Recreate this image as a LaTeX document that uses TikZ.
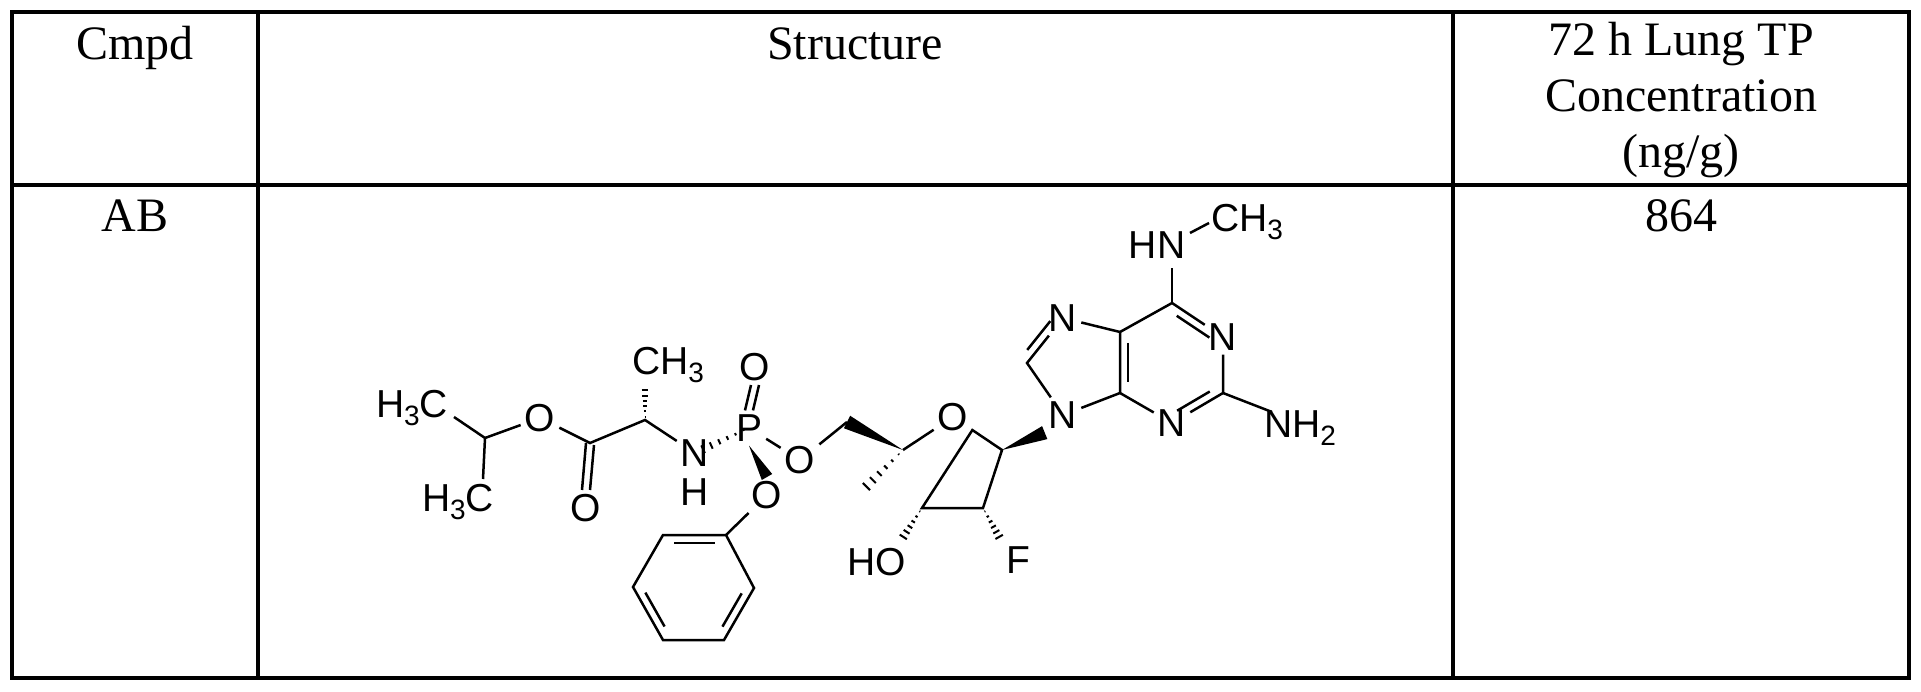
\documentclass[tikz,border=0pt]{standalone}
\usepackage{fontspec}
\setmainfont{Liberation Serif}
\newfontfamily\chemfont{Liberation Sans}
\usetikzlibrary{calc}
\newcommand\sbs[1]{\raisebox{-0.4ex}{\fontsize{28}{28}\selectfont #1}}
\newcommand\hashbond[3]{% from narrow #1 to wide #2, half-width #3
  \foreach \t in {0.1,0.25,0.4,0.55,0.7,0.85,1.0}{
    \pgfmathsetmacro\ww{\t*#3}
    \draw[bond,line width=2pt] ($($(#1)!\t!(#2)$)!\ww pt!90:(#2)$) -- ($($(#1)!\t!(#2)$)!\ww pt!-90:(#2)$);}}
\newcommand\wedgebond[3]{%
  \fill (#1) -- ($(#2)!#3pt!90:(#1)$) -- ($(#2)!#3pt!-90:(#1)$) -- cycle;}
\newcommand\innerbond[3]{%
  \draw[bond] ($($(#1)!0.18!(#2)$)!8pt!#3:(#2)$) -- ($($(#1)!0.82!(#2)$)!8pt!#3:(#2)$);}
\begin{document}
\begin{tikzpicture}[x=1pt,y=-1pt,
  grid/.style={line width=3.5pt},
  bond/.style={line width=2.5pt},
  hd/.style={font=\fontsize{48}{52}\selectfont, anchor=base, inner sep=0pt},
  atom/.style={font=\chemfont\fontsize{39}{39}\selectfont, inner sep=4pt},
  lbl/.style={font=\chemfont\fontsize{39}{39}\selectfont, inner sep=0pt}]
\useasboundingbox (0,0) rectangle (1921,692);
\fill[white] (0,0) rectangle (1921,692);
% table
\draw[grid] (12,12) rectangle (1909,678);
\draw[grid] (12,185) -- (1909,185);
\draw[grid] (258,12) -- (258,678);
\draw[grid] (1453,12) -- (1453,678);
\node[hd] (h1) at (135,60) {Cmpd};
\node[hd] (h2) at (855,60) {Structure};
\node[hd] (h3a) at (1681,56) {72 h Lung TP};
\node[hd] (h3b) at (1681,112) {Concentration};
\node[hd] (h3c) at (1681,168) {(ng/g)};
\node[hd] (r1) at (135,232) {AB};
\node[hd] (r3) at (1681,232) {864};
% ---- molecule ----
\node[lbl] (Me1) at (412,408) {H\sbs{3}C};
\node[lbl] (Me2) at (458,502) {H\sbs{3}C};
\coordinate (iPr) at (485,438);
\coordinate (m1e) at (454,417);
\coordinate (m2e) at (483,479);
\node[atom] (O1) at (540,418) {O};
\coordinate (Cco) at (590,443);
\node[atom] (O2) at (586,508) {O};
\coordinate (Ca) at (645,420);
\node[lbl] (CH3a) at (668,365) {CH\sbs{3}};
\coordinate (cae) at (645,385);
\node[atom] (N) at (695,453) {N};
\node[lbl] (NH) at (695,492) {H};
\node[atom] (P) at (749,428) {P};
\node[atom] (O3) at (755,367) {O};
\node[atom] (O4) at (800,460) {O};
\node[atom] (O5) at (767,495) {O};
\coordinate (ph1) at (726,535);
\coordinate (ph2) at (754,588);
\coordinate (ph3) at (724,640);
\coordinate (ph4) at (663,640);
\coordinate (ph5) at (633,587);
\coordinate (ph6) at (663,535);
\coordinate (CH2) at (847,422);
\coordinate (C4p) at (903,450);
\coordinate (Me4) at (860,493);
\node[atom] (Or) at (953,417) {O};
\coordinate (C1p) at (1002,450);
\coordinate (C2p) at (983,508);
\coordinate (C3p) at (922,508);
\node[lbl] (HO) at (877,562) {HO};
\coordinate (hoe) at (900,542);
\node[lbl] (F) at (1018,560) {F};
\coordinate (fe) at (1002,542);
\node[atom] (N9) at (1063,415) {N};
\coordinate (C8) at (1027,363);
\node[atom] (N7) at (1063,318) {N};
\coordinate (C5) at (1120,332);
\coordinate (C4) at (1120,393);
\coordinate (C6) at (1172,303);
\node[atom] (N1) at (1223,337) {N};
\coordinate (C2) at (1223,393);
\node[atom] (N3) at (1172,423) {N};
\node[lbl] (NH2) at (1300,428) {NH\sbs{2}};
\coordinate (nh2e) at (1272,412);
\node[lbl] (HN) at (1157,245) {HN};
\coordinate (hne) at (1172,268);
\node[lbl] (CH3b) at (1247,222) {CH\sbs{3}};
\coordinate (hn1) at (1190,233);
\coordinate (hn2) at (1209,223);
% bonds
\draw[bond] (m1e) -- (iPr) -- (m2e);
\draw[bond] (iPr) -- (O1) -- (Cco) -- (Ca) -- (N);
\draw[bond] ($(Cco)+(-4,0)$) -- ($(O2.north)+(-4,0)$);
\draw[bond] ($(Cco)+(4,2)$) -- ($(O2.north)+(4,0)$);
\hashbond{Ca}{cae}{4}
\hashbond{P}{N}{5}
\draw[bond] ($(P.north)+(-4,0)$) -- ($(O3.south)+(-4,0)$);
\draw[bond] ($(P.north)+(4,0)$) -- ($(O3.south)+(4,0)$);
\draw[bond] (P) -- (O4);
\wedgebond{P.south}{O5.north}{6}
\draw[bond] (O5) -- (ph1);
\draw[bond] (ph1) -- (ph2) -- (ph3) -- (ph4) -- (ph5) -- (ph6) -- cycle;
\innerbond{ph6}{ph1}{-90}
\innerbond{ph5}{ph4}{90}
\innerbond{ph2}{ph3}{-90}
\draw[bond] (O4) -- (CH2);
\wedgebond{C4p}{CH2}{7}
\hashbond{C4p}{Me4}{6}
\draw[bond] (C4p) -- (Or) -- (C1p) -- (C2p) -- (C3p) -- cycle;
\hashbond{C3p}{hoe}{5}
\hashbond{C2p}{fe}{5}
\wedgebond{C1p}{N9.south west}{7}
\draw[bond] (N9) -- (C8) -- (N7);
\innerbond{C8}{N7}{90}
\draw[bond] (N7) -- (C5) -- (C4) -- (N9);
\innerbond{C5}{C4}{90}
\draw[bond] (C5) -- (C6) -- (N1) -- (C2) -- (N3) -- (C4);
\innerbond{C6}{N1}{-90}
\innerbond{C2}{N3}{-90}
\draw[bond] (C2) -- (nh2e);
\draw[bond] (C6) -- (hne);
\draw[bond] (hn1) -- (hn2);
\end{tikzpicture}
\end{document}
